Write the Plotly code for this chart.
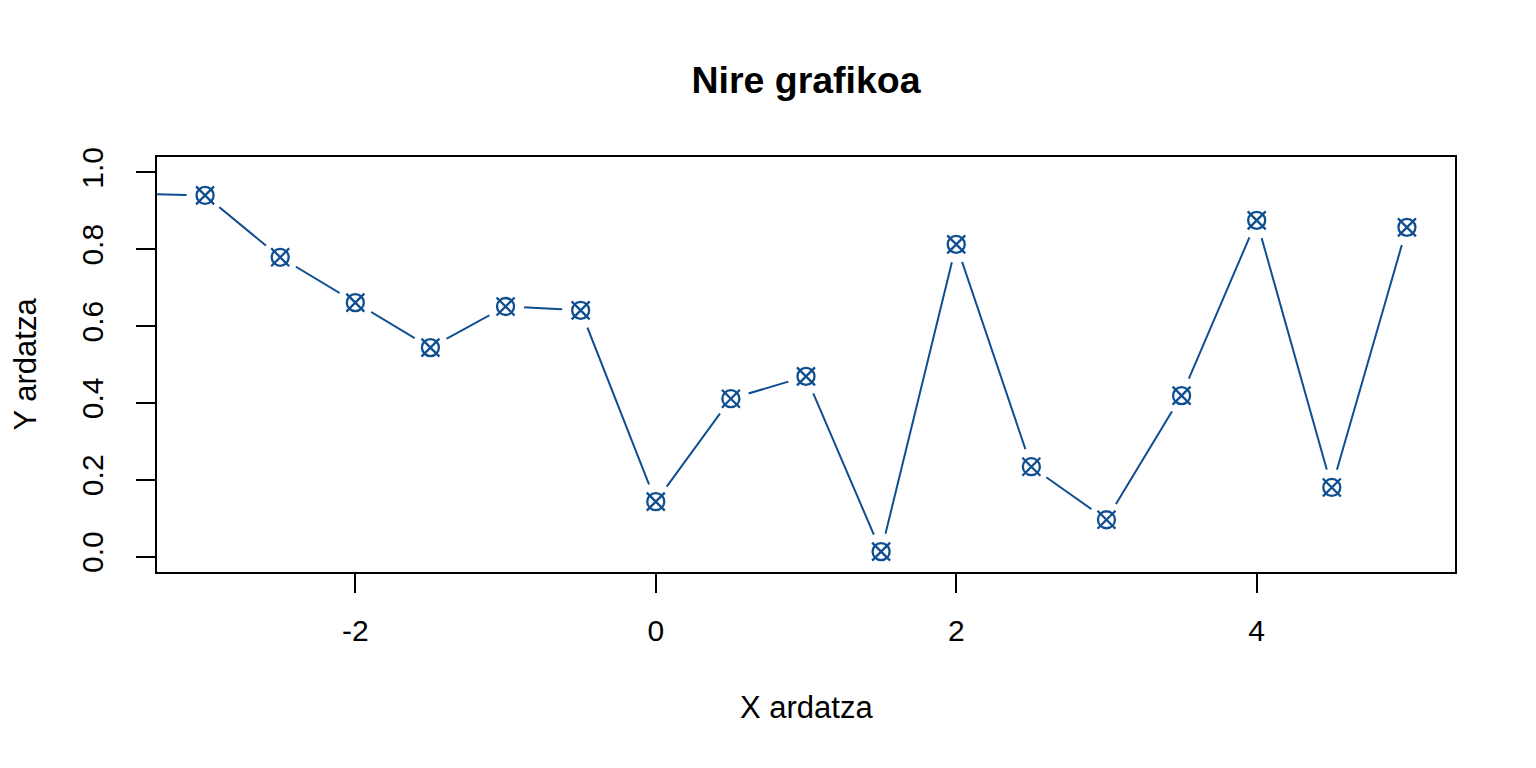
import plotly.graph_objects as go

x_values = [-3.5, -3.0, -2.5, -2.0, -1.5, -1.0, -0.5, 0.0, 0.5, 1.0, 1.5, 2.0, 2.5, 3.0, 3.5, 4.0, 4.5, 5.0]
y_values = [0.945, 0.940, 0.779, 0.661, 0.544, 0.651, 0.641, 0.143, 0.411, 0.469, 0.013, 0.8125, 0.234, 0.096, 0.419, 0.875, 0.180, 0.857]
x_ticks = [-2, 0, 2, 4]
y_ticks = [0.0, 0.2, 0.4, 0.6, 0.8, 1.0]
y_tick_labels = ["0.0", "0.2", "0.4", "0.6", "0.8", "1.0"]

title_text = "Nire grafikoa"
x_title = "X ardatza"
y_title = "Y ardatza"

color = "#0f4e90"
font = "Liberation Sans, Arial, Helvetica, sans-serif"

W, H = 1520, 752
L, T = 149, 149
R = W - 1447
B = H - 564

fig = go.Figure()
fig.add_trace(go.Scatter(x=x_values, y=y_values, mode="lines",
                         line=dict(color=color, width=2), hoverinfo="skip"))
fig.add_trace(go.Scatter(x=x_values, y=y_values, mode="markers",
                         marker=dict(symbol="circle", size=37, color="white", line=dict(width=0)),
                         cliponaxis=True, hoverinfo="skip"))
# pch = 13: circle plus a diagonal cross reaching the square's corners
fig.add_trace(go.Scatter(x=x_values, y=y_values, mode="markers",
                         marker=dict(symbol="circle-open", size=17, color=color,
                                     line=dict(color=color, width=2.3)),
                         cliponaxis=True, hoverinfo="skip"))
fig.add_trace(go.Scatter(x=x_values, y=y_values, mode="markers",
                         marker=dict(symbol="x-thin-open", size=18, color=color,
                                     line=dict(color=color, width=2.3)),
                         cliponaxis=True))

axis_common = dict(showline=True, linecolor="black", linewidth=2, mirror=True,
                   ticks="outside", ticklen=19, tickwidth=2, tickcolor="black",
                   showgrid=False, zeroline=False,
                   tickfont=dict(family=font, size=30, color="black"))

fig.update_xaxes(range=[-3.32, 5.32], tickvals=x_ticks, ticktext=[str(v) for v in x_ticks],
                 ticklabelstandoff=12, **axis_common)
fig.update_yaxes(range=[-0.04, 1.04], tickvals=y_ticks, ticktext=y_tick_labels,
                 tickangle=-90, ticklabelstandoff=21, **axis_common)

fig.update_layout(
    width=W, height=H,
    margin=dict(l=L, r=R, t=T, b=B),
    paper_bgcolor="white", plot_bgcolor="white",
    showlegend=False,
    title=dict(text="<b>" + title_text + "</b>", x=798 / W, xanchor="center",
               y=1 - 72 / H, yanchor="middle", yref="container",
               font=dict(family=font, size=37.5, color="black")),
    annotations=[
        dict(text=x_title, xref="paper", yref="paper", x=0.5, y=0, xanchor="center", yanchor="middle",
             yshift=-135, showarrow=False, font=dict(family=font, size=31, color="black")),
        dict(text=y_title, xref="paper", yref="paper", x=0, y=0.5, xanchor="center", yanchor="middle",
             xshift=-132, textangle=-90, showarrow=False, font=dict(family=font, size=31, color="black")),
    ],
)

fig.write_html("out.html")
